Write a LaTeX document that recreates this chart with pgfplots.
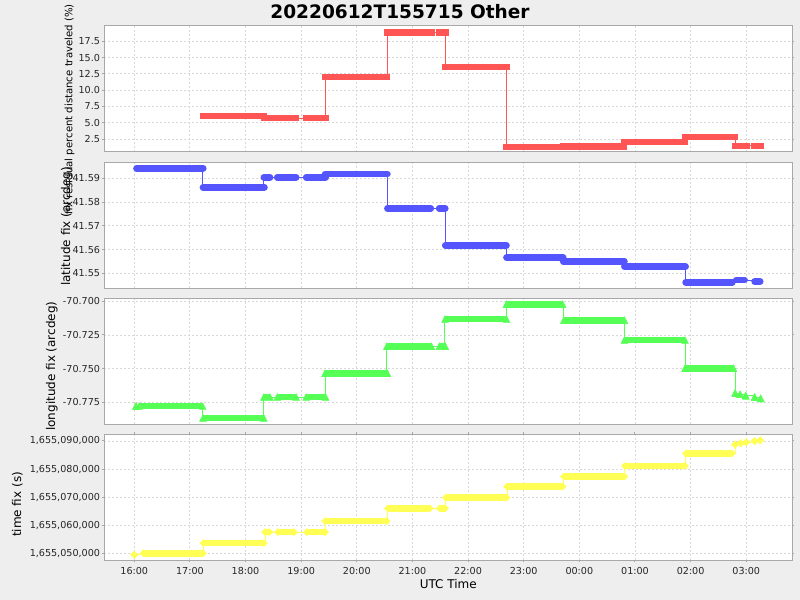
\documentclass[border=0pt]{standalone}
\usepackage{pgfplots}
\pgfplotsset{compat=1.18}
\usepackage{pgfplotstable}
\usepackage{fontspec}
\setmainfont{DejaVu Sans}
\definecolor{bgc}{HTML}{EEEEEE}
\definecolor{sred}{HTML}{FF5555}
\definecolor{sblue}{HTML}{5555FF}
\definecolor{sgreen}{HTML}{55FF55}
\definecolor{syellow}{HTML}{FFFF55}
\definecolor{axc}{HTML}{A8A8A8}
\definecolor{gridc}{HTML}{D8D8D8}

% segments: start hour, end hour (hours after 00:00 of 2022-06-12 UTC), value
\pgfplotstableread{
x0 x1 y
17.244 18.331 6.03
18.34 18.90 5.72
19.10 19.44 5.72
19.436 20.54 12.04
20.55 21.34 18.88
21.485 21.59 18.88
21.59 22.69 13.57
22.69 23.70 1.27
23.71 24.80 1.40
24.81 25.90 2.04
25.91 26.80 2.80
26.805 27.00 1.43
27.15 27.25 1.43
}\redtab

\pgfplotstableread{
x0 x1 y
16.04 17.24 41.5942
17.235 18.34 41.5862
18.33 18.44 41.5904
18.57 18.91 41.5904
19.09 19.44 41.5904
19.43 20.55 41.5917
20.55 21.33 41.5774
21.48 21.59 41.5774
21.59 22.69 41.5618
22.69 23.71 41.5567
23.71 24.81 41.5551
24.81 25.91 41.5529
25.91 26.75 41.5463
26.82 26.97 41.5472
27.15 27.25 41.5466
}\bluetab

\pgfplotstableread{
x0 x1 y
16.03 16.03 -70.7777
16.09 17.23 -70.7777
17.235 18.33 -70.7865
18.33 18.44 -70.7710
18.57 18.91 -70.7710
19.09 19.44 -70.7710
19.43 20.55 -70.7533
20.54 21.34 -70.7333
21.485 21.59 -70.7333
21.585 22.69 -70.7132
22.69 23.70 -70.7022
23.72 24.81 -70.7141
24.81 25.90 -70.7288
25.90 26.77 -70.7496
26.80 26.80 -70.768
26.89 26.89 -70.769
26.99 26.99 -70.770
27.15 27.15 -70.771
27.26 27.26 -70.772
}\greentab

% time fix given as (seconds - 1,655,000,000) / 1000
\pgfplotstableread{
x0 x1 y
16.00 16.00 49.64
16.165 17.235 50.20
17.245 18.33 53.77
18.35 18.43 57.67
18.58 18.87 57.67
19.10 19.43 57.67
19.43 20.54 61.58
20.56 21.31 66.09
21.49 21.59 66.09
21.60 22.69 69.89
22.70 23.70 73.80
23.72 24.81 77.35
24.82 25.90 81.12
25.915 26.74 85.52
26.80 26.80 88.72
26.90 26.90 89.18
27.00 27.00 89.53
27.15 27.15 89.89
27.25 27.25 90.20
}\yellowtab

\pgfplotsset{
  panel/.style={
    scale only axis, width=516pt, height=94.5pt,
    anchor=north west,
    xmin=15.461, xmax=27.827,
    xtick={16,...,27},
    axis line style={axc, line width=0.75pt},
    grid=major,
    major grid style={gridc, dash pattern=on 1.5pt off 1.5pt, line width=0.6pt},
    tick style={axc, line width=0.75pt},
    tick align=outside,
    major tick length=1.5pt,
    ticklabel style={font=\fontsize{7.2}{9}\selectfont, text=black!85},
    yticklabel style={inner xsep=1.5pt},
    label style={font=\fontsize{9}{11}\selectfont},
    /pgf/number format/assume math mode=true,
    scaled y ticks=false,
    axis background/.style={fill=white},
  },
  upper/.style={xticklabels={}, xtick style={draw=none}},
  yl/.style 2 args={ylabel style={at={(axis description cs:#1,#2)}, anchor=south, inner sep=0pt}},
  thin/.style={const plot, line width=0.75pt, mark=none},
  bar/.style={mark=none, line width=5pt, quiver={u=\thisrow{x1}-\thisrow{x0}, v=0}},
}

\begin{document}
\begin{tikzpicture}
\fill[bgc] (0,0) rectangle (600pt,450pt);
\node[font=\bfseries\fontsize{13.9}{16}\selectfont] at (300pt,441pt) {20220612T155715 Other};

% panel 1
\begin{axis}[panel, upper, at={(78.2pt,430.5pt)},
  ymin=0.51, ymax=19.84, ytick={2.5,5,7.5,10,12.5,15,17.5},
  yticklabel style={/pgf/number format/.cd, fixed, fixed zerofill, precision=1},
  yl={-0.043}{0.34},
  ylabel style={font=\fontsize{7.6}{9.5}\selectfont},
  ylabel={fix residual percent distance traveled (\%)}]
\addplot[thin, sred] table[x=x0,y=y]{\redtab};
\addplot[bar, sred, line cap=rect] table[x=x0,y=y]{\redtab};
\end{axis}

% panel 2
\begin{axis}[panel, upper, at={(78.2pt,328.125pt)},
  ymin=41.5437, ymax=41.5966, ytick={41.55,41.56,41.57,41.58,41.59},
  yticklabel style={/pgf/number format/.cd, fixed, fixed zerofill, precision=2},
  yl={-0.0455}{0.493},
  ylabel={latitude fix (arcdeg)}]
\addplot[thin, sblue] table[x=x0,y=y]{\bluetab};
\addplot[bar, sblue, line cap=round] table[x=x0,y=y]{\bluetab};
\end{axis}

% panel 3
\begin{axis}[panel, upper, at={(78.2pt,226.125pt)},
  ymin=-70.7913, ymax=-70.698, ytick={-70.775,-70.75,-70.725,-70.7},
  yticklabel style={/pgf/number format/.cd, fixed, fixed zerofill, precision=3},
  yl={-0.0673}{0.463},
  ylabel={longitude fix (arcdeg)}]
\addplot[thin, sgreen] table[x=x0,y=y]{\greentab};
\addplot[bar, sgreen, line cap=butt] table[x=x0,y=y]{\greentab};
\addplot[only marks, sgreen, mark=triangle*, mark size=3.33pt,
  mark options={draw=none, fill=sgreen, xscale=0.87, yshift=-0.83pt}] table[x=x0,y=y]{\greentab};
\addplot[only marks, sgreen, mark=triangle*, mark size=3.33pt,
  mark options={draw=none, fill=sgreen, xscale=0.87, yshift=-0.83pt}] table[x=x1,y=y]{\greentab};
\end{axis}

% panel 4
\begin{axis}[panel, at={(78.2pt,124.125pt)},
  ymin=47.62, ymax=92.27, ytick={50,60,70,80,90},
  yticklabels={{1,655,050,000},{1,655,060,000},{1,655,070,000},{1,655,080,000},{1,655,090,000}},
  xticklabels={16:00,17:00,18:00,19:00,20:00,21:00,22:00,23:00,00:00,01:00,02:00,03:00},
  yl={-0.118}{0.445},
  xlabel style={yshift=3pt},
  ylabel={time fix (s)}, xlabel={UTC Time}]
\addplot[thin, syellow] table[x=x0,y=y]{\yellowtab};
\addplot[bar, syellow, line cap=butt] table[x=x0,y=y]{\yellowtab};
\addplot[only marks, syellow, mark=diamond*, mark size=2.6pt,
  mark options={draw=none, fill=syellow, xscale=1.33}] table[x=x0,y=y]{\yellowtab};
\addplot[only marks, syellow, mark=diamond*, mark size=2.6pt,
  mark options={draw=none, fill=syellow, xscale=1.33}] table[x=x1,y=y]{\yellowtab};
\end{axis}

\pgfresetboundingbox
\path (0,0) rectangle (600pt,450pt);
\end{tikzpicture}
\end{document}
